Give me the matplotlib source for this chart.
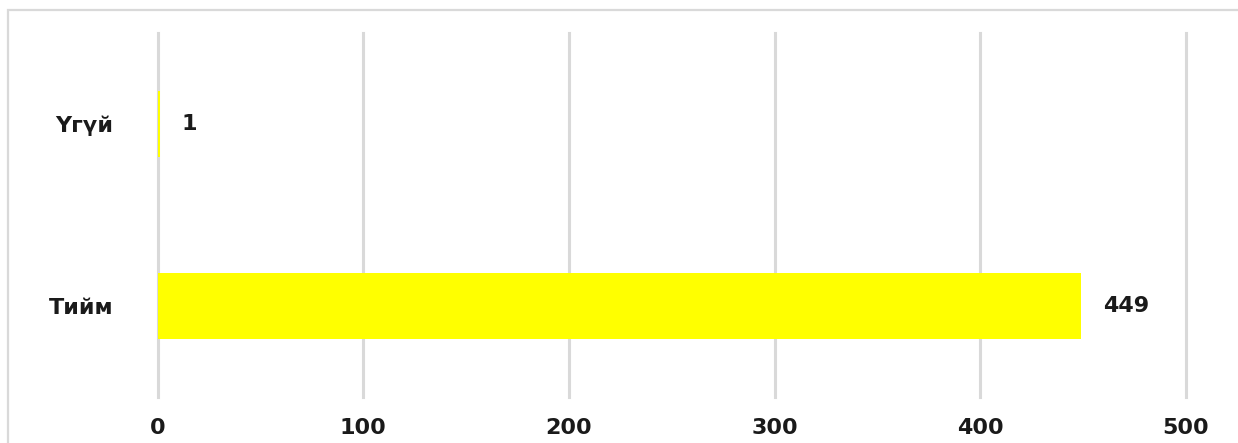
import matplotlib
matplotlib.use('Agg')
import matplotlib.pyplot as plt
from matplotlib.patches import Rectangle

# Chart data
categories = ['Тийм', 'Үгүй']
counts = [449, 1]
x_ticks = [0, 100, 200, 300, 400, 500]

fig = plt.figure(figsize=(12.38, 4.43), dpi=100)

# light grey outer frame of the chart area
frame = Rectangle((8 / 1238, -0.05), 1.1, (443 - 10) / 443 + 0.05,
                  transform=fig.transFigure, fill=False,
                  edgecolor='#d9d9d9', linewidth=1.6)
fig.patches.append(frame)

ax = fig.add_axes([157.7 / 1238, 46 / 443, (1186 - 157.7) / 1238, 364 / 443])

ax.barh(categories, counts, height=0.36, color='#ffff00', zorder=3)

for i, v in enumerate(counts):
    ax.annotate(str(v), (v, i), xytext=(16, 0), textcoords='offset points',
                ha='left', va='center', fontsize=16, fontweight='bold',
                color='#1a1a1a')

ax.set_xlim(0, 500)
ax.set_ylim(-0.5, 1.5)
ax.set_xticks(x_ticks)
ax.grid(axis='x', color='#d9d9d9', linewidth=2.2, zorder=0)
ax.set_axisbelow(True)
for gl in ax.get_xgridlines():
    gl.set_clip_on(False)

for s in ax.spines.values():
    s.set_visible(False)
ax.tick_params(axis='both', length=0, labelsize=16, colors='#1a1a1a')
ax.tick_params(axis='x', pad=15)
ax.tick_params(axis='y', pad=32)
for lbl in ax.get_xticklabels() + ax.get_yticklabels():
    lbl.set_fontweight('bold')

fig.savefig('out.png', dpi=100)
